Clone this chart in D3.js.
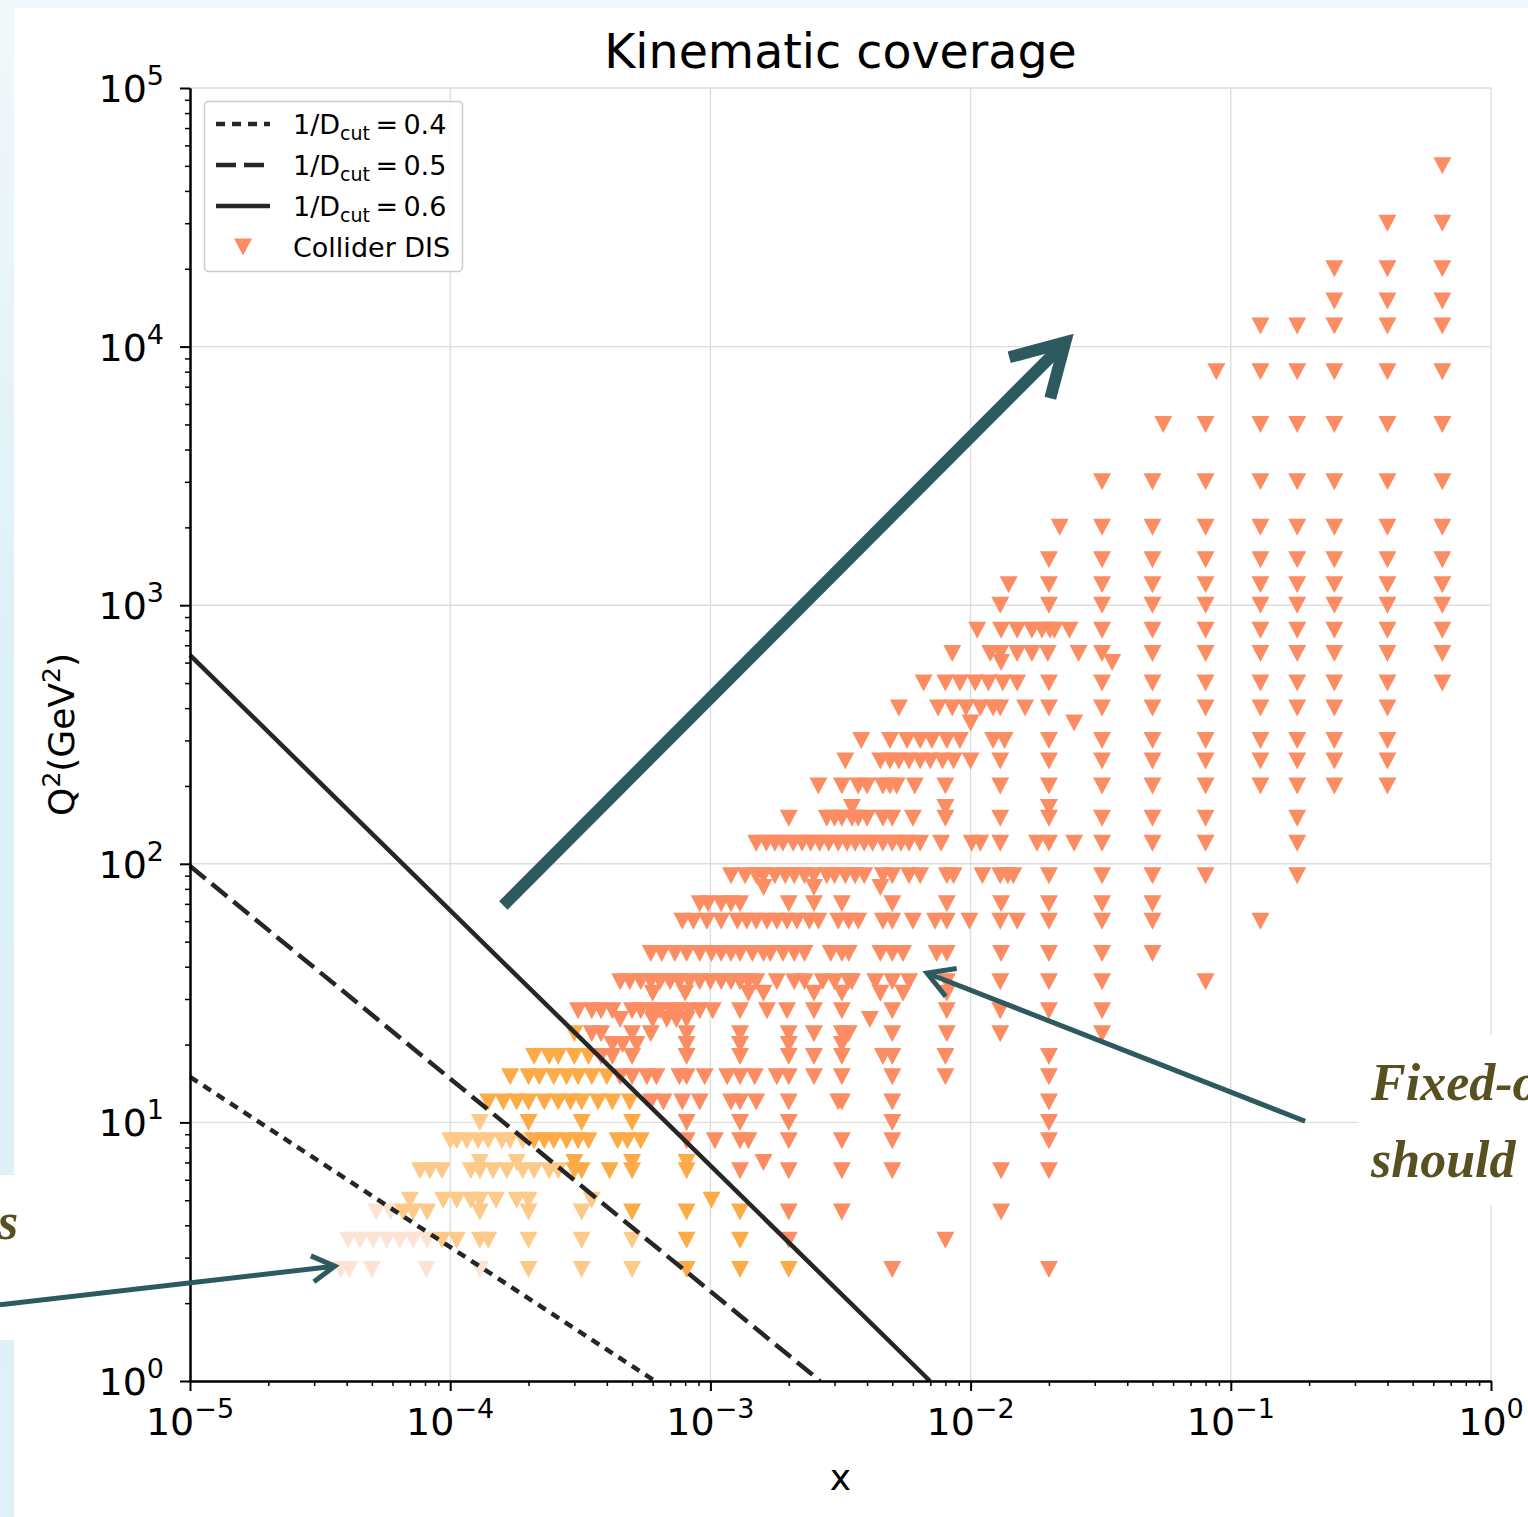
<!DOCTYPE html>
<html>
<head>
<meta charset="utf-8">
<script src="https://cdn.jsdelivr.net/npm/d3@7"></script>
<style>
  html, body { margin: 0; padding: 0; background: #ffffff; }
  svg { display: block; }
</style>
</head>
<body>
<svg id="chart" width="1528" height="1517"></svg>
<script>
// ---- Collider DIS kinematic points: one x-list per Q^2 bin (GeV^2) ----
const q2Bins = [50000, 30000, 20000, 15000, 12000, 8000, 5000, 3000, 2000, 1500, 1200, 1000,
  800, 650, 600, 500, 400, 350, 300, 250, 200, 165, 150, 120, 90, 81, 70, 60, 45, 35, 31.6,
  27, 25, 22, 20, 18, 15, 12, 10, 8.5, 7, 6.5, 5, 4.5, 3.5, 2.7];

const xByBin = [
  [0.65],
  [0.4, 0.65],
  [0.25, 0.4, 0.65],
  [0.25, 0.4, 0.65],
  [0.13, 0.18, 0.25, 0.4, 0.65],
  [0.088, 0.13, 0.18, 0.25, 0.4, 0.65],
  [0.055, 0.08, 0.13, 0.18, 0.25, 0.4, 0.65],
  [0.032, 0.05, 0.08, 0.13, 0.18, 0.25, 0.4, 0.65],
  [0.022, 0.032, 0.05, 0.08, 0.13, 0.18, 0.25, 0.4, 0.65],
  [0.02, 0.032, 0.05, 0.08, 0.13, 0.18, 0.25, 0.4, 0.65],
  [0.014, 0.02, 0.032, 0.05, 0.08, 0.13, 0.18, 0.25, 0.4, 0.65],
  [0.013, 0.02, 0.032, 0.05, 0.08, 0.13, 0.18, 0.25, 0.4, 0.65],
  [0.0106, 0.0131, 0.0151, 0.0172, 0.0188, 0.0202, 0.021, 0.024, 0.032, 0.05, 0.08, 0.13, 0.18, 0.25, 0.4, 0.65],
  [0.0085, 0.0119, 0.013, 0.0151, 0.0172, 0.0198, 0.026, 0.032, 0.05, 0.08, 0.13, 0.18, 0.25, 0.4, 0.65],
  [0.0131, 0.035],
  [0.0066, 0.008, 0.0091, 0.0104, 0.0117, 0.0133, 0.0151, 0.02, 0.032, 0.05, 0.08, 0.13, 0.18, 0.25, 0.4, 0.65],
  [0.0053, 0.0075, 0.0085, 0.0096, 0.0109, 0.0122, 0.013, 0.0162, 0.02, 0.032, 0.05, 0.08, 0.13, 0.18, 0.25, 0.4],
  [0.01, 0.025],
  [0.0038, 0.0049, 0.0057, 0.0064, 0.0071, 0.0081, 0.0091, 0.0122, 0.0135, 0.02, 0.032, 0.05, 0.08, 0.13, 0.18, 0.25, 0.4],
  [0.0033, 0.0045, 0.0049, 0.0053, 0.0058, 0.0064, 0.007, 0.0078, 0.0086, 0.01, 0.013, 0.02, 0.032, 0.05, 0.08, 0.13, 0.18, 0.25, 0.4],
  [0.0026, 0.0032, 0.0037, 0.004, 0.0046, 0.0049, 0.0052, 0.0061, 0.008, 0.013, 0.02, 0.032, 0.05, 0.08, 0.13, 0.18, 0.25, 0.4],
  [0.0035, 0.008, 0.02],
  [0.002, 0.0028, 0.003, 0.0032, 0.0035, 0.0037, 0.004, 0.0046, 0.005, 0.006, 0.008, 0.013, 0.02, 0.032, 0.05, 0.08, 0.18],
  [0.0015, 0.00164, 0.00177, 0.0019, 0.00208, 0.00225, 0.00243, 0.00263, 0.00285, 0.0031, 0.00335, 0.0036, 0.0039, 0.0042,
   0.0046, 0.005, 0.0054, 0.0058, 0.0064, 0.0077, 0.0101, 0.0109, 0.013, 0.018, 0.02, 0.025, 0.032, 0.05, 0.08, 0.18],
  [0.0012, 0.00136, 0.0015, 0.0016, 0.00177, 0.00194, 0.0021, 0.0023, 0.0025, 0.0028, 0.003, 0.0033, 0.0036, 0.0039,
   0.0046, 0.005, 0.0058, 0.0064, 0.0081, 0.0086, 0.0111, 0.013, 0.0139, 0.0146, 0.02, 0.032, 0.05, 0.08, 0.18],
  [0.0016, 0.0025, 0.0045],
  [0.00091, 0.00098, 0.0011, 0.0012, 0.0013, 0.002, 0.0025, 0.0032, 0.005, 0.0081, 0.0131, 0.02, 0.032, 0.05],
  [0.00078, 0.00086, 0.00097, 0.0011, 0.00127, 0.00138, 0.0015, 0.00165, 0.0018, 0.00197, 0.00215, 0.0024, 0.0026, 0.0031,
   0.0034, 0.0037, 0.0046, 0.005, 0.006, 0.0073, 0.0081, 0.0099, 0.013, 0.0151, 0.02, 0.032, 0.05, 0.13],
  [0.00059, 0.00065, 0.00073, 0.00081, 0.00091, 0.00101, 0.0011, 0.0012, 0.0013, 0.00145, 0.0016, 0.0017, 0.0019, 0.0021,
   0.0023, 0.0029, 0.0032, 0.0034, 0.0045, 0.005, 0.0055, 0.0074, 0.0081, 0.0131, 0.02, 0.032, 0.05],
  [0.00045, 0.00049, 0.00054, 0.00059, 0.00064, 0.0007, 0.00076, 0.00083, 0.00091, 0.001, 0.0011, 0.0012, 0.0013, 0.0014,
   0.0015, 0.0018, 0.0021, 0.0023, 0.0027, 0.003, 0.0034, 0.0035, 0.0043, 0.005, 0.0058, 0.0081, 0.013, 0.02, 0.032, 0.08],
  [0.0006, 0.0008, 0.0014, 0.0016, 0.0025, 0.0032, 0.0045, 0.0055, 0.0081],
  [0.00031, 0.00035, 0.00038, 0.00042, 0.0005, 0.00054, 0.00059, 0.00064, 0.0007, 0.00076, 0.00083, 0.00091, 0.00102,
   0.0013, 0.00165, 0.00197, 0.0025, 0.0032, 0.005, 0.0081, 0.013, 0.02, 0.032],
  [0.00045, 0.0006, 0.00068, 0.00074, 0.00081, 0.0041],
  [0.0003, 0.00035, 0.00038, 0.0005, 0.00059, 0.00081, 0.0013, 0.002, 0.0025, 0.0032, 0.0034, 0.005, 0.0081, 0.013, 0.032],
  [0.00042, 0.00046, 0.00052, 0.00081, 0.0013, 0.002, 0.0032],
  [0.00021, 0.00024, 0.00026, 0.0003, 0.00034, 0.00038, 0.00042, 0.0005, 0.00081, 0.0013, 0.002, 0.0025, 0.0032, 0.0046,
   0.005, 0.008, 0.02],
  [0.00017, 0.0002, 0.00022, 0.00025, 0.00028, 0.00031, 0.00035, 0.0004, 0.00045, 0.0005, 0.00057, 0.00062, 0.00076,
   0.00081, 0.00095, 0.00116, 0.0013, 0.00148, 0.0018, 0.002, 0.0025, 0.0032, 0.005, 0.008, 0.02],
  [0.00014, 0.00016, 0.00018, 0.0002, 0.00023, 0.00026, 0.00029, 0.00032, 0.00037, 0.00042, 0.00049, 0.00059, 0.00066,
   0.00078, 0.00091, 0.0012, 0.0013, 0.0015, 0.002, 0.0031, 0.0032, 0.005, 0.02],
  [0.00013, 0.0002, 0.00032, 0.0005, 0.00081, 0.0013, 0.002, 0.005, 0.02],
  [0.0001, 0.000106, 0.000116, 0.000128, 0.00014, 0.000158, 0.00017, 0.00019, 0.00021, 0.00023, 0.00025, 0.00028,
   0.00031, 0.00034, 0.00044, 0.00048, 0.00054, 0.00081, 0.00104, 0.0013, 0.0014, 0.002, 0.0032, 0.005, 0.02],
  [0.00013, 0.00018, 0.0003, 0.0005, 0.00081, 0.0016],
  [7.65e-5, 8.35e-5, 9.3e-5, 0.00012, 0.00013, 0.000146, 0.000165, 0.00019, 0.00021, 0.00024, 0.00026, 0.0003, 0.00032,
   0.00041, 0.0005, 0.00081, 0.0013, 0.002, 0.0032, 0.005, 0.0131, 0.02],
  [7.0e-5, 9.4e-5, 0.000106, 0.00012, 0.00013, 0.00015, 0.00018, 0.0002, 0.00035, 0.00101],
  [5.2e-5, 5.9e-5, 6.6e-5, 7.2e-5, 8.15e-5, 0.00013, 0.0002, 0.00032, 0.0005, 0.00081, 0.0013, 0.002, 0.0032, 0.0131],
  [4.05e-5, 4.5e-5, 5.05e-5, 5.7e-5, 6.4e-5, 7.2e-5, 8.15e-5, 9.3e-5, 0.000106, 0.00013, 0.00014, 0.0002, 0.00032,
   0.0005, 0.00081, 0.0013, 0.002, 0.008],
  [3.8e-5, 4.1e-5, 5e-5, 8.1e-5, 0.00013, 0.0002, 0.00032, 0.0005, 0.00081, 0.0013, 0.002, 0.005, 0.02]
];

// ---- Cut lines 1/D_cut: straight in log-log, given by end points (x, Q^2) ----
const cutValues = [0.4, 0.5, 0.6];
const cutStarts = [[1e-5, 15.0], [1e-5, 98], [1e-5, 641]];
const cutEnds   = [[6.12e-4, 1], [2.64e-3, 1], [6.98e-3, 1]];
const cutDashes = ["9,7", "20,8", null];

// ---- Axis ticks (powers of ten) ----
const xTickExps = [-5, -4, -3, -2, -1, 0];
const yTickExps = [0, 1, 2, 3, 4, 5];

// Point colour by region: below 0.4, 0.4-0.5, 0.5-0.6, above 0.6 cut
const regionColors = ["#fde3d4", "#fdca89", "#fdab47", "#fc8d62"];
const markerColor = "#fc8d62";
const inkColor = "#262626";
const arrowColor = "#2d5a5f";
const noteColor = "#585020";

const svg = d3.select("#chart");
const W = 1528, H = 1517;
const plot = { left: 190, right: 1491, top: 88, bottom: 1381 };

const x = d3.scaleLog().domain([1e-5, 1]).range([plot.left, plot.right]);
const y = d3.scaleLog().domain([1, 1e5]).range([plot.bottom, plot.top]);

// ---- page background: pale blue frame at the left and top ----
const defs = svg.append("defs");
const grad = defs.append("linearGradient").attr("id", "frame")
  .attr("x1", 0).attr("y1", 0).attr("x2", 0).attr("y2", 1);
grad.append("stop").attr("offset", "0%").attr("stop-color", "#f1f8fb");
grad.append("stop").attr("offset", "45%").attr("stop-color", "#dcf0f7");
grad.append("stop").attr("offset", "100%").attr("stop-color", "#dff1f8");

svg.append("rect").attr("width", W).attr("height", H).attr("fill", "#ffffff");
svg.append("rect").attr("x", 0).attr("y", 0).attr("width", W).attr("height", 8).attr("fill", "#f1f8fb");
svg.append("rect").attr("x", 0).attr("y", 0).attr("width", 14).attr("height", H).attr("fill", "url(#frame)");

// ---- grid ----
const gridG = svg.append("g");
xTickExps.slice(1).forEach(e => {
  gridG.append("line").attr("x1", x(10 ** e)).attr("x2", x(10 ** e))
    .attr("y1", plot.top).attr("y2", plot.bottom)
    .attr("stroke", "#dddddd").attr("stroke-width", 1.4);
});
yTickExps.slice(1).forEach(e => {
  gridG.append("line").attr("x1", plot.left).attr("x2", plot.right)
    .attr("y1", y(10 ** e)).attr("y2", y(10 ** e))
    .attr("stroke", "#dddddd").attr("stroke-width", 1.4);
});

// ---- cut-line helpers ----
function cutLogQ2(i, xv) {
  const lx0 = Math.log10(cutStarts[i][0]), lq0 = Math.log10(cutStarts[i][1]);
  const lx1 = Math.log10(cutEnds[i][0]), lq1 = Math.log10(cutEnds[i][1]);
  return lq0 + (Math.log10(xv) - lx0) * (lq1 - lq0) / (lx1 - lx0);
}
function regionOf(xv, q2) {
  const lq = Math.log10(q2);
  let r = 0;
  for (let i = 0; i < cutValues.length; i++) if (lq >= cutLogQ2(i, xv)) r = i + 1;
  return r;
}

// ---- points ----
const points = [];
q2Bins.forEach((q2, i) => xByBin[i].forEach(xv => points.push({ x: xv, q2, r: regionOf(xv, q2) })));

const tri = "M-9,-8.5L9,-8.5L0,8.5Z";
svg.append("g").selectAll("path").data(points).join("path")
  .attr("d", tri)
  .attr("transform", d => `translate(${x(d.x)},${y(d.q2)})`)
  .attr("fill", d => regionColors[d.r]);

// ---- cut lines ----
const lineGen = d3.line().x(d => x(d[0])).y(d => y(d[1]));
cutValues.forEach((c, i) => {
  svg.append("path")
    .attr("d", lineGen([cutStarts[i], cutEnds[i]]))
    .attr("fill", "none").attr("stroke", inkColor).attr("stroke-width", 4.5)
    .attr("stroke-dasharray", cutDashes[i]);
});

// ---- axes ----
const majorX = xTickExps.map(e => 10 ** e);
const majorY = yTickExps.map(e => 10 ** e);
const minorOf = majors => {
  const out = [];
  majors.slice(0, -1).forEach(m => { for (let k = 2; k <= 9; k++) out.push(m * k); });
  return out;
};

function styleAxis(g, w) {
  g.select(".domain").attr("stroke", "#000").attr("stroke-width", 2);
  g.selectAll(".tick line").attr("stroke", "#000").attr("stroke-width", w);
}

const xAxisG = svg.append("g").attr("transform", `translate(0,${plot.bottom})`);
xAxisG.call(d3.axisBottom(x).tickValues(majorX).tickSize(10).tickSizeOuter(0).tickFormat(""));
styleAxis(xAxisG, 2);
const xMinorG = svg.append("g").attr("transform", `translate(0,${plot.bottom})`);
xMinorG.call(d3.axisBottom(x).tickValues(minorOf(majorX)).tickSize(5).tickSizeOuter(0).tickFormat(""));
styleAxis(xMinorG, 1.5);

const yAxisG = svg.append("g").attr("transform", `translate(${plot.left},0)`);
yAxisG.call(d3.axisLeft(y).tickValues(majorY).tickSize(10).tickSizeOuter(0).tickFormat(""));
styleAxis(yAxisG, 2);
const yMinorG = svg.append("g").attr("transform", `translate(${plot.left},0)`);
yMinorG.call(d3.axisLeft(y).tickValues(minorOf(majorY)).tickSize(5).tickSizeOuter(0).tickFormat(""));
styleAxis(yMinorG, 1.5);

const font = "'DejaVu Sans', sans-serif";
const expText = e => (e < 0 ? "\u2212" + Math.abs(e) : String(e));

// x tick labels: 10^e
xTickExps.forEach(e => {
  const t = svg.append("text").attr("x", x(10 ** e)).attr("y", 1435)
    .attr("text-anchor", "middle").attr("font-family", font).attr("font-size", 38).attr("fill", "#000");
  t.append("tspan").text("10");
  t.append("tspan").attr("dy", -17).attr("font-size", 27).text(expText(e));
});
// y tick labels
yTickExps.forEach(e => {
  const t = svg.append("text").attr("x", 164).attr("y", y(10 ** e) + 14)
    .attr("text-anchor", "end").attr("font-family", font).attr("font-size", 38).attr("fill", "#000");
  t.append("tspan").text("10");
  t.append("tspan").attr("dy", -17).attr("font-size", 27).text(expText(e));
});

// axis titles
svg.append("text").attr("x", (plot.left + plot.right) / 2).attr("y", 1490)
  .attr("text-anchor", "middle").attr("font-family", font).attr("font-size", 36).text("x");
const yl = svg.append("text").attr("transform", `translate(74,${(plot.top + plot.bottom) / 2}) rotate(-90)`)
  .attr("text-anchor", "middle").attr("font-family", font).attr("font-size", 36);
yl.append("tspan").text("Q");
yl.append("tspan").attr("dy", -14).attr("font-size", 25).text("2");
yl.append("tspan").attr("dy", 14).text("(GeV");
yl.append("tspan").attr("dy", -14).attr("font-size", 25).text("2");
yl.append("tspan").attr("dy", 14).text(")");

// title
svg.append("text").attr("x", (plot.left + plot.right) / 2).attr("y", 68)
  .attr("text-anchor", "middle").attr("font-family", font).attr("font-size", 47.5).text("Kinematic coverage");

// ---- legend ----
const lg = svg.append("g");
lg.append("rect").attr("x", 204.5).attr("y", 101.5).attr("width", 258).attr("height", 170).attr("rx", 4)
  .attr("fill", "#ffffff").attr("fill-opacity", 0.85).attr("stroke", "#cccccc").attr("stroke-width", 1.5);
const legRows = [124, 165, 206, 247];
cutValues.forEach((c, i) => {
  lg.append("line").attr("x1", 216).attr("x2", 270).attr("y1", legRows[i]).attr("y2", legRows[i])
    .attr("stroke", inkColor).attr("stroke-width", 4.5).attr("stroke-dasharray", cutDashes[i]);
  const t = lg.append("text").attr("x", 293).attr("y", legRows[i] + 10)
    .attr("font-family", font).attr("font-size", 27).attr("fill", "#000");
  t.append("tspan").text("1/D");
  t.append("tspan").attr("dy", 6).attr("font-size", 19).text("cut");
  t.append("tspan").attr("dy", -6).text("\u2009=\u20090." + String(c).split(".")[1]);
});
lg.append("path").attr("d", tri).attr("transform", `translate(243,${legRows[3]})`).attr("fill", markerColor);
lg.append("text").attr("x", 293).attr("y", legRows[3] + 10)
  .attr("font-family", font).attr("font-size", 27).attr("fill", "#000").text("Collider DIS");

// ---- slide annotations: text boxes and arrows ----
svg.append("rect").attr("x", 1359).attr("y", 1035).attr("width", W - 1359).attr("height", 170).attr("fill", "#ffffff");
svg.append("rect").attr("x", 0).attr("y", 1175).attr("width", 40).attr("height", 165).attr("fill", "#ffffff");

const noteFont = "'Liberation Serif', 'DejaVu Serif', serif";
svg.append("text").attr("x", 1371).attr("y", 1100).attr("font-family", noteFont).attr("font-style", "italic")
  .attr("font-weight", "bold").attr("font-size", 52).attr("fill", noteColor).text("Fixed-order");
svg.append("text").attr("x", 1371).attr("y", 1177).attr("font-family", noteFont).attr("font-style", "italic")
  .attr("font-weight", "bold").attr("font-size", 52).attr("fill", noteColor).text("should");
svg.append("text").attr("x", -2).attr("y", 1239).attr("font-family", noteFont).attr("font-style", "italic")
  .attr("font-weight", "bold").attr("font-size", 52).attr("fill", noteColor).text("s");

// arrows in data coordinates: [tail, head]
const arrowSpecs = [
  { from: [1.6e-4, 69], to: [0.0231, 10400], width: 12, head: 58 },
  { from: [0.193, 10.1], to: [6.8e-3, 37.8], width: 5, head: 30 },
  { from: [1.86e-6, 1.97], to: [3.6e-5, 2.78], width: 5, head: 26 }
];
arrowSpecs.forEach(a => {
  const x0 = x(a.from[0]), y0 = y(a.from[1]), x1 = x(a.to[0]), y1 = y(a.to[1]);
  const len = Math.hypot(x1 - x0, y1 - y0);
  const ux = (x0 - x1) / len, uy = (y0 - y1) / len;
  const ang = Math.PI / 6;
  const rot = s => [ux * Math.cos(s) - uy * Math.sin(s), ux * Math.sin(s) + uy * Math.cos(s)];
  const [ax, ay] = rot(ang), [bx, by] = rot(-ang);
  svg.append("line").attr("x1", x0).attr("y1", y0).attr("x2", x1 + ux * a.width * 0.5).attr("y2", y1 + uy * a.width * 0.5)
    .attr("stroke", arrowColor).attr("stroke-width", a.width);
  svg.append("path")
    .attr("d", `M${x1 + ax * a.head},${y1 + ay * a.head}L${x1},${y1}L${x1 + bx * a.head},${y1 + by * a.head}`)
    .attr("fill", "none").attr("stroke", arrowColor).attr("stroke-width", a.width)
    .attr("stroke-linejoin", "miter").attr("stroke-miterlimit", 10);
});
</script>
</body>
</html>
